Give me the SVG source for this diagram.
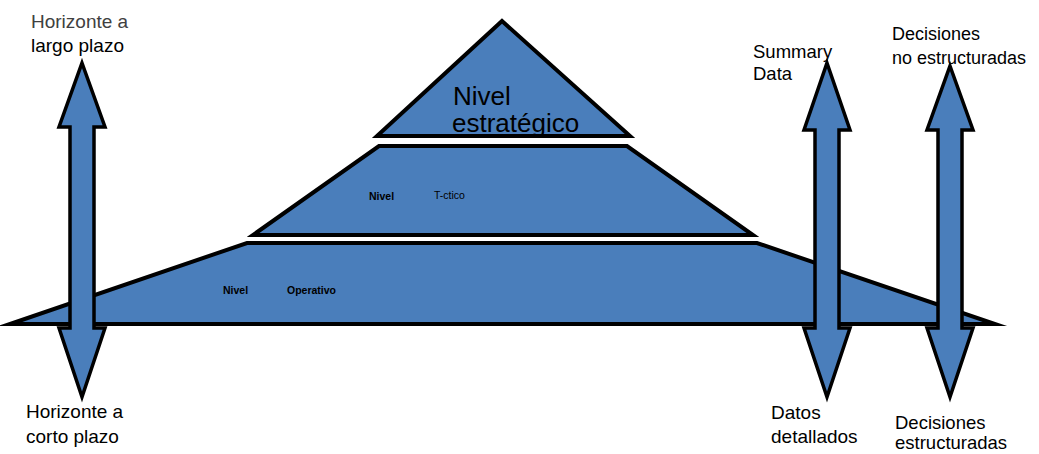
<svg xmlns="http://www.w3.org/2000/svg" width="1039" height="454" viewBox="0 0 1039 454">
<style>
.lvl{fill:#4a7ebb;stroke:#000;stroke-width:4;stroke-linejoin:miter;stroke-miterlimit:20}
.arr{fill:#4a7ebb;stroke:#000;stroke-width:3.5;stroke-linejoin:miter;stroke-miterlimit:20}
.lbl{font-family:"Liberation Sans",Arial,sans-serif;font-size:19px;fill:#000}
.sm{font-family:"Liberation Sans",Arial,sans-serif;font-size:10.5px;font-weight:bold;fill:#000}
.big{font-family:"Liberation Sans",Arial,sans-serif;font-size:26px;fill:#000}
</style>
<rect width="1039" height="454" fill="#fff"/>
<g id="operativo">
<polygon class="lvl" points="247,243 757,243 995,324 10,324"/>
<text class="sm" x="223" y="294">Nivel</text>
<text class="sm" x="287" y="294">Operativo</text>
</g>
<g id="tactico">
<polygon class="lvl" points="379,146 627,146 753,235 253,235"/>
<text class="sm" x="369" y="200">Nivel</text>
<text class="sm" x="434" y="199" style="font-weight:normal">T-ctico</text>
</g>
<g id="estrategico">
<polygon class="lvl" points="502,21 630,136 377,136"/>
<text class="big" x="453" y="105">Nivel</text>
<text class="big" x="452" y="132">estratégico</text>
</g>
<g id="connectors">
<polygon id="arrow-horizonte" class="arr" points="82,63 105,127 94,127 94,328 105,328 82,397 59,328 70,328 70,127 59,127"/>
<polygon id="arrow-data" class="arr" points="827,63 850,130 839,130 839,328 850,328 827,397 804,328 815,328 815,130 804,130"/>
<polygon id="arrow-decisiones" class="arr" points="950,66 973,130 962,130 962,328 973,328 950,397 927,328 938,328 938,130 927,130"/>
</g>
<g id="label-horizonte-largo">
<text class="lbl" x="31" y="28" style="fill:#404040">Horizonte a</text>
<text class="lbl" x="31" y="52">largo plazo</text>
</g>
<g id="label-horizonte-corto">
<text class="lbl" x="26" y="418">Horizonte a</text>
<text class="lbl" x="26" y="443">corto plazo</text>
</g>
<g id="label-summary">
<text class="lbl" x="753" y="58" style="font-size:18.5px">Summary</text>
<text class="lbl" x="753" y="80" style="font-size:18.5px">Data</text>
</g>
<g id="label-datos">
<text class="lbl" x="771" y="419">Datos</text>
<text class="lbl" x="771" y="443">detallados</text>
</g>
<g id="label-no-estructuradas">
<text class="lbl" x="892" y="40" style="font-size:18px">Decisiones</text>
<text class="lbl" x="892" y="64" style="font-size:18px">no estructuradas</text>
</g>
<g id="label-estructuradas">
<text class="lbl" x="895" y="429" style="font-size:18.5px">Decisiones</text>
<text class="lbl" x="895" y="449" style="font-size:18.5px">estructuradas</text>
</g>
</svg>
